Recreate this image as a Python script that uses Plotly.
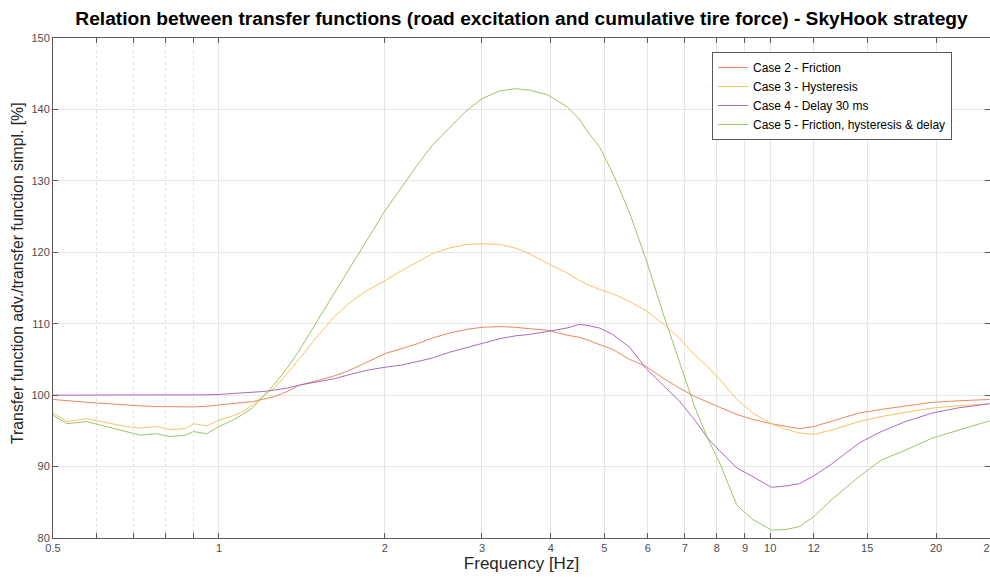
import plotly.graph_objects as go

freq = [0.5, 0.53, 0.575, 0.63, 0.68, 0.72, 0.77, 0.815, 0.87, 0.9, 0.95, 1.0, 1.06, 1.1,
        1.15, 1.2, 1.26, 1.33, 1.4, 1.5, 1.62, 1.73, 1.86, 2.0, 2.14, 2.29, 2.44, 2.62,
        2.81, 3.0, 3.23, 3.45, 3.66, 3.93, 4.28, 4.5, 4.63, 4.9, 5.18, 5.56, 5.96, 6.39,
        6.84, 7.3, 7.7, 8.1, 8.7, 9.3, 10.05, 10.7, 11.3, 12.0, 12.9, 14.5, 15.9, 17.6,
        19.7, 21.9, 25.0]

case2_friction = [99.4, 99.2, 99.0, 98.8, 98.6, 98.5, 98.4, 98.35, 98.3, 98.35, 98.45, 98.6,
                  98.8, 98.9, 99.1, 99.4, 99.8, 100.5, 101.4, 102.0, 102.7, 103.5, 104.6,
                  105.8, 106.5, 107.2, 108.0, 108.7, 109.2, 109.5, 109.6, 109.5, 109.3, 109.1,
                  108.4, 108.1, 107.8, 107.1, 106.4, 105.0, 104.0, 102.4, 101.0, 99.8, 99.0,
                  98.3, 97.3, 96.6, 96.0, 95.6, 95.3, 95.6, 96.3, 97.5, 98.0, 98.5, 99.0,
                  99.2, 99.4]

case3_hysteresis = [97.5, 96.3, 96.7, 96.1, 95.6, 95.4, 95.6, 95.2, 95.3, 96.0, 95.7, 96.5,
                    97.1, 97.6, 98.6, 99.8, 101.0, 103.0, 105.2, 108.0, 111.0, 113.0, 114.7,
                    116.0, 117.4, 118.7, 119.8, 120.6, 121.1, 121.2, 121.1, 120.6, 119.8, 118.5,
                    117.1, 116.1, 115.6, 114.8, 114.2, 113.1, 111.8, 110.0, 108.0, 105.6, 104.0,
                    102.2, 99.4, 97.5, 96.0, 95.2, 94.7, 94.5, 95.1, 96.3, 97.0, 97.6, 98.2,
                    98.5, 98.8]

case4_delay = [100.0, 100.0, 100.0, 100.0, 99.95, 99.95, 99.95, 99.95, 100.0, 100.0, 100.05,
               100.1, 100.2, 100.25, 100.35, 100.5, 100.7, 101.0, 101.4, 101.8, 102.3, 102.9,
               103.5, 103.9, 104.2, 104.7, 105.2, 106.0, 106.6, 107.2, 107.9, 108.3, 108.5,
               108.9, 109.4, 109.9, 109.8, 109.4, 108.5, 106.7, 103.7, 101.4, 99.2, 96.5, 94.0,
               92.2, 89.8, 88.6, 87.1, 87.3, 87.6, 88.7, 90.3, 93.3, 94.9, 96.3, 97.5, 98.2,
               98.8]

case5_all = [97.2, 96.0, 96.3, 95.5, 94.8, 94.4, 94.6, 94.2, 94.4, 94.9, 94.6, 95.6, 96.5,
             97.2, 98.2, 99.8, 101.5, 103.8, 106.3, 110.1, 114.3, 118.0, 122.0, 125.8, 129.0,
             132.2, 135.0, 137.4, 139.8, 141.5, 142.6, 142.9, 142.7, 142.1, 140.4, 138.7,
             137.2, 134.8, 131.1, 125.5, 118.9, 111.5, 104.6, 98.3, 94.0, 90.5, 84.6, 82.6,
             81.1, 81.2, 81.6, 83.0, 85.3, 88.6, 90.9, 92.3, 94.0, 95.1, 96.4]

series_names = ["Case 2 - Friction", "Case 3 - Hysteresis", "Case 4 - Delay 30 ms",
                "Case 5 - Friction, hysteresis & delay"]
series_values = [case2_friction, case3_hysteresis, case4_delay, case5_all]
series_colors = ["#EA8860", "#F5C462", "#AC6AC0", "#9CC565"]

x_tickvals = [0.5, 1, 2, 3, 4, 5, 6, 7, 8, 9, 10, 12, 15, 20, 25]
x_ticktext = ["0.5", "1", "2", "3", "4", "5", "6", "7", "8", "9", "10", "12", "15", "20", "25"]
x_minor_vals = [0.6, 0.7, 0.8, 0.9]
y_tickvals = [80, 90, 100, 110, 120, 130, 140, 150]

FONT = "Liberation Sans, Arial, Helvetica, sans-serif"

fig = go.Figure()
for name, vals, col in zip(series_names, series_values, series_colors):
    fig.add_trace(go.Scatter(x=freq, y=vals, mode="lines", name=name,
                             line=dict(color=col, width=1)))

axis_common = dict(
    showline=True, linecolor="#5a5a5a", linewidth=1, mirror="ticks",
    ticks="inside", ticklen=5, tickcolor="#5a5a5a", tickwidth=1,
    showgrid=True, gridcolor="#e6e6e6", gridwidth=1, zeroline=False,
    tickfont=dict(family=FONT, size=11, color="#4d4d4d"),
    ticklabeloverflow="allow",
)

fig.update_layout(
    width=990, height=578,
    margin=dict(l=53, r=0, t=38, b=40),
    paper_bgcolor="white", plot_bgcolor="white",
    font=dict(family=FONT, color="#262626"),
    title=dict(text="<b>Relation between transfer functions (road excitation and cumulative tire force) - SkyHook strategy</b>",
               x=0.5, xref="paper", xanchor="center",
               y=1 - 18 / 578, yref="container", yanchor="middle",
               font=dict(family=FONT, size=19.2, color="#000000")),
    xaxis=dict(type="log", range=[-0.30103, 1.3988],
               tickmode="array", tickvals=x_tickvals, ticktext=x_ticktext,
               minor=dict(tickmode="array", tickvals=x_minor_vals, ticks="inside", ticklen=5,
                          tickcolor="#5a5a5a", showgrid=True, griddash="dot",
                          gridcolor="#e2e2e2"),
               title=dict(text="Frequency [Hz]", standoff=2,
                          font=dict(family=FONT, size=17, color="#262626")),
               automargin=False, **axis_common),
    yaxis=dict(range=[80, 150], tickmode="array", tickvals=y_tickvals,
               automargin=False, **axis_common),
    showlegend=True,
    legend=dict(x=(712 - 53) / 937, y=1 - (52 - 38) / 500, xanchor="left", yanchor="top",
                bgcolor="white", bordercolor="#5a5a5a", borderwidth=1,
                font=dict(family=FONT, size=12, color="#000000"),
                itemwidth=30, tracegroupgap=0),
    annotations=[dict(text="Transfer function adv./transfer function simpl. [%]",
                      textangle=-90, xref="paper", yref="paper",
                      x=(17 - 53) / 937, y=1 - (273 - 38) / 500,
                      xanchor="center", yanchor="middle", showarrow=False,
                      font=dict(family=FONT, size=15.8, color="#262626"))],
)

fig.write_html("out.html")
